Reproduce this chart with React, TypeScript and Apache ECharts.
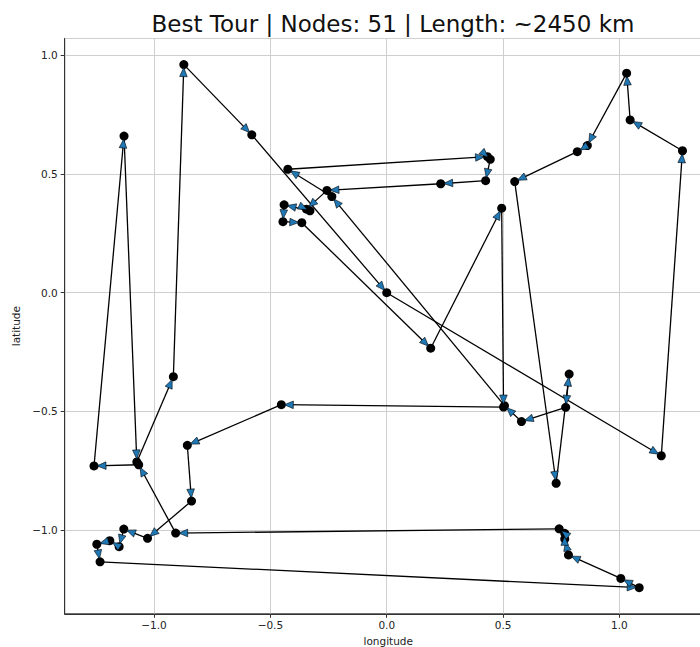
import React, { useEffect, useRef } from "react";
import * as echarts from "echarts";

// Tour order (longitude / latitude of each visited node)
const tourLon = [
  0.55, 0.728, 0.784, 0.769, 0.579, 0.506, -0.236, -0.425, 0.433, 0.445,
  0.425, 0.232, -0.257, -0.345, -0.33, -0.441, -0.446, -0.365, 0.189, 0.494,
  0.502, -0.453, -0.857, -0.839, -1.028, -1.13, -1.15, -1.19, -1.246, -1.232,
  1.085, 1.006, 0.781, 0.765, 0.765, 0.741, -0.907, -1.066, -1.258, -1.129,
  -1.074, -0.917, -0.872, -0.58, 0.0, 1.18, 1.271, 1.046, 1.031, 0.862, 0.819,
];
const tourLat = [
  0.468, -0.803, -0.343, -0.483, -0.543, -0.476, 0.405, 0.52, 0.573, 0.562,
  0.472, 0.459, 0.431, 0.352, 0.345, 0.37, 0.299, 0.295, -0.234, 0.356,
  -0.482, -0.472, -0.643, -0.878, -1.035, -0.996, -1.07, -1.045, -1.06, -1.134,
  -1.243, -1.204, -1.105, -1.038, -1.014, -0.995, -1.013, -0.725, -0.73, 0.66,
  -0.713, -0.354, 0.961, 0.665, 0.0, -0.687, 0.598, 0.728, 0.925, 0.62, 0.594,
];
const xRange = [-1.384, 1.397];
const yRange = [-1.353, 1.071];
const titleText = "Best Tour | Nodes: 51 | Length: ~2450 km";
const xName = "longitude";
const yName = "latitude";

const FONT = "DejaVu Sans";

export default function App() {
  const ref = useRef<HTMLDivElement>(null);
  useEffect(() => {
    const chart = echarts.init(ref.current as HTMLDivElement, null, { renderer: "svg" });
    const n = tourLon.length;
    const nodes = tourLon.map((x, i) => [x, tourLat[i]]);
    const edges = nodes.map((p, i) => {
      const q = nodes[(i + 1) % n];
      return [p[0], p[1], q[0], q[1]];
    });
    const fmt = (v: number) => {
      if (Math.abs(v * 2 - Math.round(v * 2)) > 1e-6) return "";
      return v.toFixed(1).replace("-", "\u2212");
    };
    const axisCommon = {
      type: "value" as const,
      splitNumber: 5,
      axisLine: { show: true, onZero: false, lineStyle: { color: "#333", width: 1 } },
      axisTick: { show: true, length: 4, lineStyle: { color: "#333", width: 1 } },
      axisLabel: {
        formatter: fmt,
        fontSize: 10.5,
        color: "#222",
        fontFamily: FONT,
        showMinLabel: false,
        showMaxLabel: false,
      },
      splitLine: { show: true, lineStyle: { color: "#cfcfcf", width: 1 } },
      nameLocation: "middle" as const,
      nameTextStyle: { fontSize: 10.5, color: "#222", fontFamily: FONT },
    };
    chart.setOption({
      animation: false,
      backgroundColor: "#fff",
      title: {
        text: titleText,
        left: 388,
        top: 7,
        textAlign: "center",
        textStyle: { fontSize: 23, fontWeight: "normal", color: "#111", fontFamily: FONT },
      },
      grid: {
        left: 64.7,
        top: 38.5,
        width: 647.1,
        height: 575.3,
        show: true,
        borderColor: "#333",
        borderWidth: 1,
        containLabel: false,
        outerBoundsMode: "none",
      },
      xAxis: {
        ...axisCommon,
        min: xRange[0],
        max: xRange[1],
        axisLabel: { ...axisCommon.axisLabel, margin: 6 },
        name: xName,
        nameGap: 21,
      },
      yAxis: {
        ...axisCommon,
        min: yRange[0],
        max: yRange[1],
        axisLabel: { ...axisCommon.axisLabel, margin: 7 },
        name: yName,
        nameGap: 40,
        nameRotate: 90,
      },
      series: [
        {
          type: "custom",
          coordinateSystem: "cartesian2d",
          data: edges,
          encode: { x: [0, 2], y: [1, 3] },
          z: 2,
          silent: true,
          renderItem: (params: any, api: any) => {
            const p1 = api.coord([api.value(0), api.value(1)]);
            const p2 = api.coord([api.value(2), api.value(3)]);
            return {
              type: "line",
              shape: { x1: p1[0], y1: p1[1], x2: p2[0], y2: p2[1] },
              style: { stroke: "#000", lineWidth: 1.3 },
            };
          },
        },
        {
          type: "scatter",
          data: nodes,
          symbol: "circle",
          symbolSize: 9,
          itemStyle: { color: "#000", opacity: 1 },
          z: 3,
          silent: true,
        },
        {
          type: "custom",
          coordinateSystem: "cartesian2d",
          data: edges,
          encode: { x: [0, 2], y: [1, 3] },
          z: 4,
          silent: true,
          renderItem: (params: any, api: any) => {
            const p1 = api.coord([api.value(0), api.value(1)]);
            const p2 = api.coord([api.value(2), api.value(3)]);
            const dx = p2[0] - p1[0];
            const dy = p2[1] - p1[1];
            const len = Math.hypot(dx, dy) || 1;
            const ux = dx / len;
            const uy = dy / len;
            const tipOff = 3;
            const hl = 9;
            const hw = 3.8;
            const tx = p2[0] - ux * tipOff;
            const ty = p2[1] - uy * tipOff;
            const bx = tx - ux * hl;
            const by = ty - uy * hl;
            const px = -uy;
            const py = ux;
            return {
              type: "polygon",
              shape: {
                points: [
                  [tx, ty],
                  [bx + px * hw, by + py * hw],
                  [bx - px * hw, by - py * hw],
                ],
              },
              style: { fill: "#1f77b4", stroke: "#000", lineWidth: 0.6 },
            };
          },
        },
      ],
    });
    return () => chart.dispose();
  }, []);
  return (
    <div
      ref={ref}
      style={{ position: "fixed", left: 0, top: 0, width: 700, height: 647, background: "#fff" }}
    />
  );
}
